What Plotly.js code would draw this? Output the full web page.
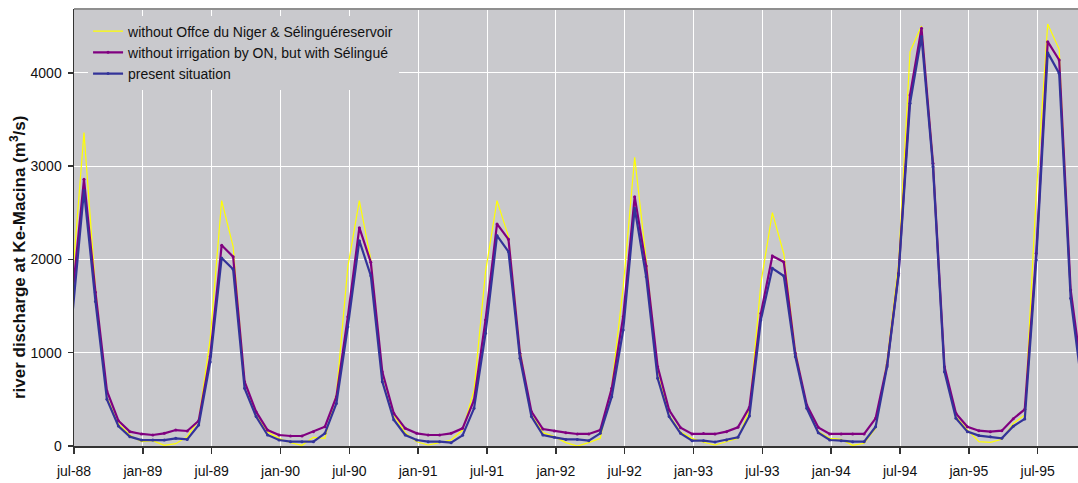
<!DOCTYPE html>
<html>
<head>
<meta charset="utf-8">
<script src="https://cdn.plot.ly/plotly-3.0.1.min.js"></script>
<style>
  html, body { margin: 0; padding: 0; background: #ffffff; }
  #chart { width: 1078px; height: 483px; }
</style>
</head>
<body>
<div id="chart"></div>
<script>
// Tick labels (one every 6 months, starting jul-88)
const tickLabels = ['jul-88','jan-89','jul-89','jan-90','jul-90','jan-91','jul-91','jan-92',
                    'jul-92','jan-93','jul-93','jan-94','jul-94','jan-95','jul-95'];

// Series names
const seriesNames = [
  'without Offce du Niger & Sélinguéreservoir',
  'without irrigation by ON, but with Sélingué',
  'present situation'
];

const yAxisTitle = 'river discharge at Ke-Macina (m<sup>3</sup>/s)';

// Monthly river discharge (m3/s), starting jul-88
const withoutONandSelingue = [
  1800, 3360, 1700, 520, 240, 118, 46, 57, 7, 25, 100, 279,
  1150, 2631, 2137, 700, 330, 150, 82, 35, 7, 93, 82, 560,
  1923, 2631, 2000, 780, 332, 143, 46, 11, 36, 64, 171, 600,
  1869, 2631, 2245, 1030, 332, 143, 100, 36, 0, 36, 82, 636,
  1708, 3096, 2000, 815, 332, 150, 82, 40, 11, 46, 82, 390,
  1745, 2502, 2059, 1029, 422, 154, 82, 71, 7, 29, 190, 922,
  1959, 4229, 4504, 3067, 833, 315, 172, 46, 39, 72, 242, 332,
  2700, 4525, 4254, 1655, 700
];

const withoutIrrigationWithSelingue = [
  1620, 2860, 1650, 590, 271, 154, 129, 118, 136, 171, 161, 271,
  960, 2152, 2030, 690, 368, 171, 118, 107, 107, 154, 207, 529,
  1387, 2341, 1970, 797, 350, 189, 136, 118, 118, 136, 189, 493,
  1351, 2381, 2216, 994, 368, 182, 161, 143, 129, 129, 171, 618,
  1387, 2674, 1930, 851, 386, 196, 129, 133, 129, 154, 200, 415,
  1423, 2038, 1973, 994, 440, 200, 129, 129, 129, 129, 297, 869,
  1852, 3764, 4479, 3031, 851, 350, 207, 164, 154, 164, 292, 393,
  2066, 4336, 4139, 1673, 756
];

const presentSituation = [
  1420, 2740, 1550, 500, 214, 100, 64, 64, 64, 82, 71, 225,
  900, 2016, 1895, 618, 315, 118, 64, 46, 46, 46, 136, 457,
  1280, 2202, 1826, 690, 282, 118, 64, 46, 46, 36, 114, 404,
  1208, 2256, 2084, 940, 315, 118, 93, 71, 71, 57, 136, 529,
  1244, 2549, 1816, 726, 315, 136, 57, 57, 43, 64, 93, 322,
  1351, 1905, 1823, 958, 404, 143, 64, 57, 46, 46, 207, 851,
  1834, 3675, 4390, 2995, 797, 297, 154, 112, 98, 82, 212, 290,
  1995, 4218, 3996, 1584, 625
];

const yTicks = [0, 1000, 2000, 3000, 4000];

// ---- chart construction ----
const months = presentSituation.map((_, i) => i);
const TICK_OFFSET = 0.13;            // axis ticks sit slightly right of month points
const MONTHS_PER_TICK = 6;
const tickVals = tickLabels.map((_, j) => j * MONTHS_PER_TICK + TICK_OFFSET);

const FONT = '"Liberation Sans", Arial, Helvetica, sans-serif';
const PLOT_BG = '#C9C9CD';

const traces = [
  { name: seriesNames[0], y: withoutONandSelingue, color: '#FFFF00', width: 1.2, msize: 0 },
  { name: seriesNames[1], y: withoutIrrigationWithSelingue, color: '#800080', width: 2.2, msize: 3 },
  { name: seriesNames[2], y: presentSituation, color: '#333399', width: 2.2, msize: 3 }
].map(s => ({
  type: 'scatter',
  mode: s.msize ? 'lines+markers' : 'lines',
  x: months,
  y: s.y,
  name: s.name,
  line: { color: s.color, width: s.width },
  marker: { color: s.color, size: s.msize },
  cliponaxis: true,
  hoverinfo: 'x+y+name'
}));

const layout = {
  width: 1078,
  height: 483,
  margin: { l: 74, r: 0, t: 9, b: 37, pad: 0 },
  paper_bgcolor: '#ffffff',
  plot_bgcolor: PLOT_BG,
  font: { family: FONT, size: 14, color: '#111111' },
  showlegend: true,
  legend: {
    x: 0.014, y: 0.985, xanchor: 'left', yanchor: 'top',
    bgcolor: PLOT_BG, borderwidth: 0,
    font: { family: FONT, size: 14, color: '#111111' },
    traceorder: 'normal',
    tracegroupgap: 0
  },
  xaxis: {
    range: [TICK_OFFSET, 87.64],
    tickmode: 'array',
    tickvals: tickVals,
    ticktext: tickLabels,
    ticks: 'outside', ticklen: 6, tickwidth: 1.5, tickcolor: '#333333',
    showline: true, linecolor: '#333333', linewidth: 1.5,
    showgrid: true, gridcolor: '#ffffff', gridwidth: 1,
    zeroline: false,
    tickfont: { family: FONT, size: 14, color: '#111111' },
    ticklabelstandoff: 6,
    fixedrange: true
  },
  yaxis: {
    range: [0, 4686],
    tickmode: 'array',
    tickvals: yTicks,
    ticktext: yTicks.map(String),
    ticks: 'outside', ticklen: 5, tickwidth: 1.5, tickcolor: '#333333',
    showline: true, linecolor: '#333333', linewidth: 1.5,
    showgrid: true, gridcolor: '#ffffff', gridwidth: 1,
    zeroline: false,
    tickfont: { family: FONT, size: 14, color: '#111111' },
    ticklabelstandoff: 3,
    automargin: false,
    fixedrange: true
  },
  annotations: [
    {
      text: '<b>' + yAxisTitle + '</b>',
      textangle: -90,
      xref: 'paper', x: 0, xanchor: 'center', xshift: -56,
      yref: 'paper', y: 0.43, yanchor: 'middle',
      showarrow: false,
      font: { family: FONT, size: 17, color: '#111111' }
    }
  ],
  shapes: [
    { type: 'line', xref: 'paper', yref: 'paper', x0: 0, x1: 1, y0: 1, y1: 1,
      line: { color: '#8f8f8f', width: 2 } }
  ]
};

Plotly.newPlot('chart', traces, layout, { displayModeBar: false, staticPlot: true });
</script>
</body>
</html>
